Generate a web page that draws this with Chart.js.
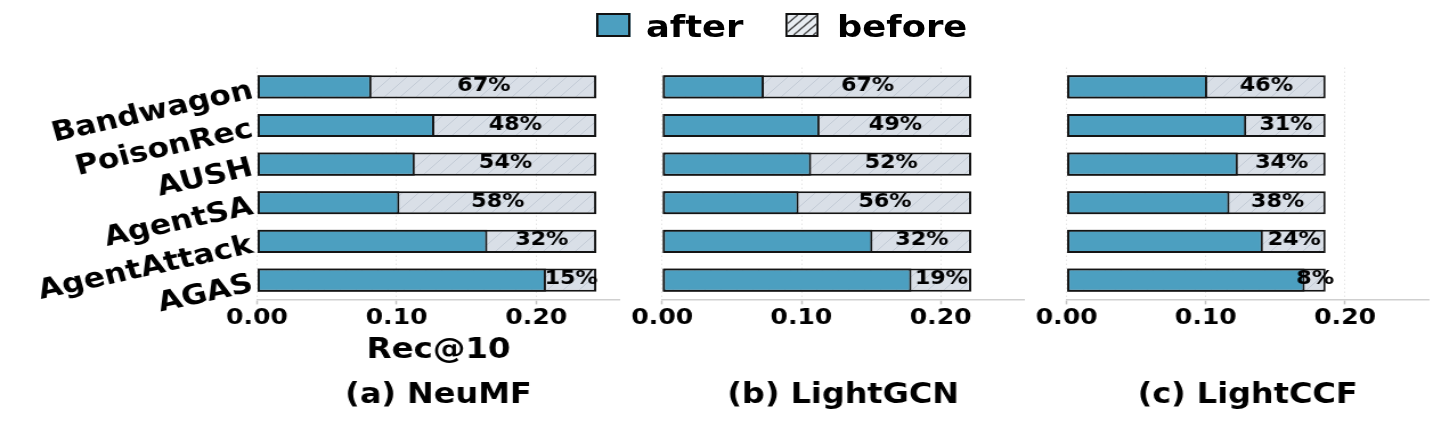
<!DOCTYPE html>
<html><head><meta charset="utf-8">
<script src="https://cdn.jsdelivr.net/npm/chart.js@4.4.1/dist/chart.umd.min.js"></script>
<style>
html,body{margin:0;padding:0;background:#fff;width:1451px;height:428px;overflow:hidden;font-family:'DejaVu Sans',sans-serif;}
#stage{position:absolute;left:0;top:0;height:428px;transform-origin:0 0;}
.panel{position:absolute;top:0;height:428px;}
.lg{position:absolute;font-family:'DejaVu Sans',sans-serif;font-weight:bold;font-size:31px;line-height:36px;top:8px;color:#000;white-space:nowrap;}
.sw{position:absolute;box-sizing:border-box;border:2px solid #111;}
</style></head><body>
<div id="stage">
  <div class="sw" id="swAfter"></div>
  <div class="lg" id="lgAfter"></div>
  <canvas class="sw" id="swBefore" width="29" height="24"></canvas>
  <div class="lg" id="lgBefore"></div>
  <div class="panel" id="p0"><canvas id="c0"></canvas></div>
  <div class="panel" id="p1"><canvas id="c1"></canvas></div>
  <div class="panel" id="p2"><canvas id="c2"></canvas></div>
</div>

<script>
// ---------- data ----------
const categories = ['Bandwagon', 'PoisonRec', 'AUSH', 'AgentSA', 'AgentAttack', 'AGAS'];
const seriesNames = ['after', 'before'];
const panelTitles = ['(a) NeuMF', '(b) LightGCN', '(c) LightCCF'];
const xAxisTitle = 'Rec@10';

const neumfAfter     = [0.082, 0.127, 0.113, 0.102, 0.165, 0.207];
const neumfBefore    = [0.243, 0.243, 0.243, 0.243, 0.243, 0.243];
const neumfDrop      = ['67%', '48%', '54%', '58%', '32%', '15%'];

const lightgcnAfter  = [0.073, 0.113, 0.107, 0.098, 0.151, 0.179];
const lightgcnBefore = [0.222, 0.222, 0.222, 0.222, 0.222, 0.222];
const lightgcnDrop   = ['67%', '49%', '52%', '56%', '32%', '19%'];

const lightccfAfter  = [0.101, 0.129, 0.123, 0.117, 0.141, 0.171];
const lightccfBefore = [0.186, 0.186, 0.186, 0.186, 0.186, 0.186];
const lightccfDrop   = ['46%', '31%', '34%', '38%', '24%', '8%'];

// ---------- layout (figure is horizontally stretched) ----------
const SX = 1.14;
const PAGE_W = 1451, PAGE_H = 428;
const STAGE_W = PAGE_W / SX;
const stage = document.getElementById('stage');
stage.style.width = STAGE_W + 'px';
stage.style.transform = 'scaleX(' + SX + ')';

const FONT = "'DejaVu Sans', sans-serif";
const AFTER_COLOR = '#4c9fc0';
const EDGE = '#141414';

function place(el, left, top, w, h) {
  el.style.left = left + 'px'; el.style.top = top + 'px';
  if (w != null) el.style.width = w + 'px';
  if (h != null) el.style.height = h + 'px';
}

// legend
const swA = document.getElementById('swAfter');
place(swA, 596 / SX, 13, 34 / SX, 24);
swA.style.background = AFTER_COLOR;
const lgA = document.getElementById('lgAfter');
lgA.textContent = seriesNames[0];
place(lgA, 646 / SX, 8);
const swB = document.getElementById('swBefore');
place(swB, 786 / SX, 13, 33 / SX, 24);
const lgB = document.getElementById('lgBefore');
lgB.textContent = seriesNames[1];
place(lgB, 837 / SX, 8);

function makeHatch(bg, line, spacing, lw) {
  const c = document.createElement('canvas');
  c.width = c.height = spacing;
  const g = c.getContext('2d');
  g.fillStyle = bg; g.fillRect(0, 0, spacing, spacing);
  g.strokeStyle = line; g.lineWidth = lw;
  g.beginPath();
  g.moveTo(0, spacing); g.lineTo(spacing, 0);
  g.moveTo(-spacing, spacing); g.lineTo(spacing, -spacing);
  g.moveTo(0, 2 * spacing); g.lineTo(2 * spacing, 0);
  g.stroke();
  return g.createPattern(c, 'repeat');
}
const barHatch = makeHatch('#d9dfe7', '#c3cbd6', 14, 1);

(function () {
  const g = swB.getContext('2d');
  g.fillStyle = '#e8edf2'; g.fillRect(0, 0, swB.width, swB.height);
  g.strokeStyle = '#222'; g.lineWidth = 1.3;
  g.beginPath();
  for (let k = -24; k < 60; k += 10) { g.moveTo(k, 24); g.lineTo(k + 24, 0); }
  g.stroke();
})();

// plot areas in page pixels [left, right]; canvas boxes in page pixels [left, right]
const plotX = [[257, 620], [662, 1024], [1067, 1429]];
const boxX = [[0, 638], [604, 1060], [1015, 1451]];
const PLOT_TOP = 67.5;

function makePanel(k, after, before, drop, cfg) {
  const bl = boxX[k][0] / SX, bw = (boxX[k][1] - boxX[k][0]) / SX;
  const pane = document.getElementById('p' + k);
  place(pane, bl, 0, bw, PAGE_H);
  const cv = document.getElementById('c' + k);
  cv.width = Math.round(bw); cv.height = PAGE_H;
  const padL = plotX[k][0] / SX - bl;
  const padR = Math.round(bw) - (plotX[k][1] / SX - bl);

  const pctPlugin = {
    id: 'pctLabels',
    afterDatasetsDraw(chart) {
      const ctx = chart.ctx, xs = chart.scales.x, ys = chart.scales.y;
      ctx.save();
      ctx.font = "bold 19.5px " + FONT;
      ctx.fillStyle = '#000';
      ctx.textAlign = 'center';
      ctx.textBaseline = 'middle';
      for (let i = 0; i < categories.length; i++) {
        const x = xs.getPixelForValue((after[i] + before[i]) / 2);
        const y = ys.getPixelForValue(i);
        ctx.fillText(drop[i], x, y - 1);
      }
      ctx.restore();
    }
  };
  const yLabelPlugin = {
    id: 'yLabels',
    afterDraw(chart) {
      if (!cfg.yLabels) return;
      const ctx = chart.ctx, ys = chart.scales.y;
      ctx.save();
      ctx.font = "bold 27.5px " + FONT;
      ctx.fillStyle = '#000';
      ctx.textAlign = 'right';
      ctx.textBaseline = 'middle';
      for (let i = 0; i < categories.length; i++) {
        const y = ys.getPixelForValue(i);
        ctx.save();
        ctx.translate(chart.chartArea.left - 4, y + 4);
        ctx.rotate(-14 * Math.PI / 180);
        ctx.fillText(categories[i], 0, 0);
        ctx.restore();
      }
      ctx.restore();
    }
  };
  return new Chart(cv, {
    type: 'bar',
    data: {
      labels: categories,
      datasets: [
        { label: seriesNames[0], data: after, backgroundColor: AFTER_COLOR, borderColor: EDGE,
          borderWidth: 2, borderSkipped: false, grouped: false, barPercentage: 0.6, categoryPercentage: 1 },
        { label: seriesNames[1], data: before, backgroundColor: barHatch, borderColor: EDGE,
          borderWidth: 2, borderSkipped: false, grouped: false, barPercentage: 0.6, categoryPercentage: 1 }
      ]
    },
    options: {
      indexAxis: 'y',
      responsive: false,
      animation: false,
      devicePixelRatio: 1,
      layout: { padding: { left: padL, right: padR, top: PLOT_TOP, bottom: 0 } },
      scales: {
        x: {
          min: 0, max: 0.26,
          ticks: { stepSize: 0.1, includeBounds: false, color: '#000', padding: 1,
            font: { family: FONT, weight: 'bold', size: 22, lineHeight: 1.2 },
            callback: v => v.toFixed(2) },
          grid: { color: '#e6e6e6', lineWidth: 1, drawTicks: true, tickLength: 5,
            tickColor: '#c4c4c4', tickWidth: 1.5, tickBorderDash: [] },
          border: { display: true, color: '#cfcfcf', width: 1.5, dash: [1.5, 2.5] },
          title: { display: cfg.xTitle, text: xAxisTitle, color: '#000',
            font: { family: FONT, weight: 'bold', size: 28.5, lineHeight: 1.2 },
            padding: { top: 0, bottom: 12 } },
          afterFit: s => { s.height = 80; }
        },
        y: { display: false }
      },
      plugins: {
        legend: { display: false },
        tooltip: { enabled: false },
        title: { display: true, text: panelTitles[k], position: 'bottom', color: '#000',
          font: { family: FONT, weight: 'bold', size: 28, lineHeight: 1.2 },
          padding: { top: 0, bottom: 15 } }
      }
    },
    plugins: [pctPlugin, yLabelPlugin]
  });
}

makePanel(0, neumfAfter, neumfBefore, neumfDrop, { yLabels: true, xTitle: true });
makePanel(1, lightgcnAfter, lightgcnBefore, lightgcnDrop, { yLabels: false, xTitle: false });
makePanel(2, lightccfAfter, lightccfBefore, lightccfDrop, { yLabels: false, xTitle: false });
</script>
</body></html>
